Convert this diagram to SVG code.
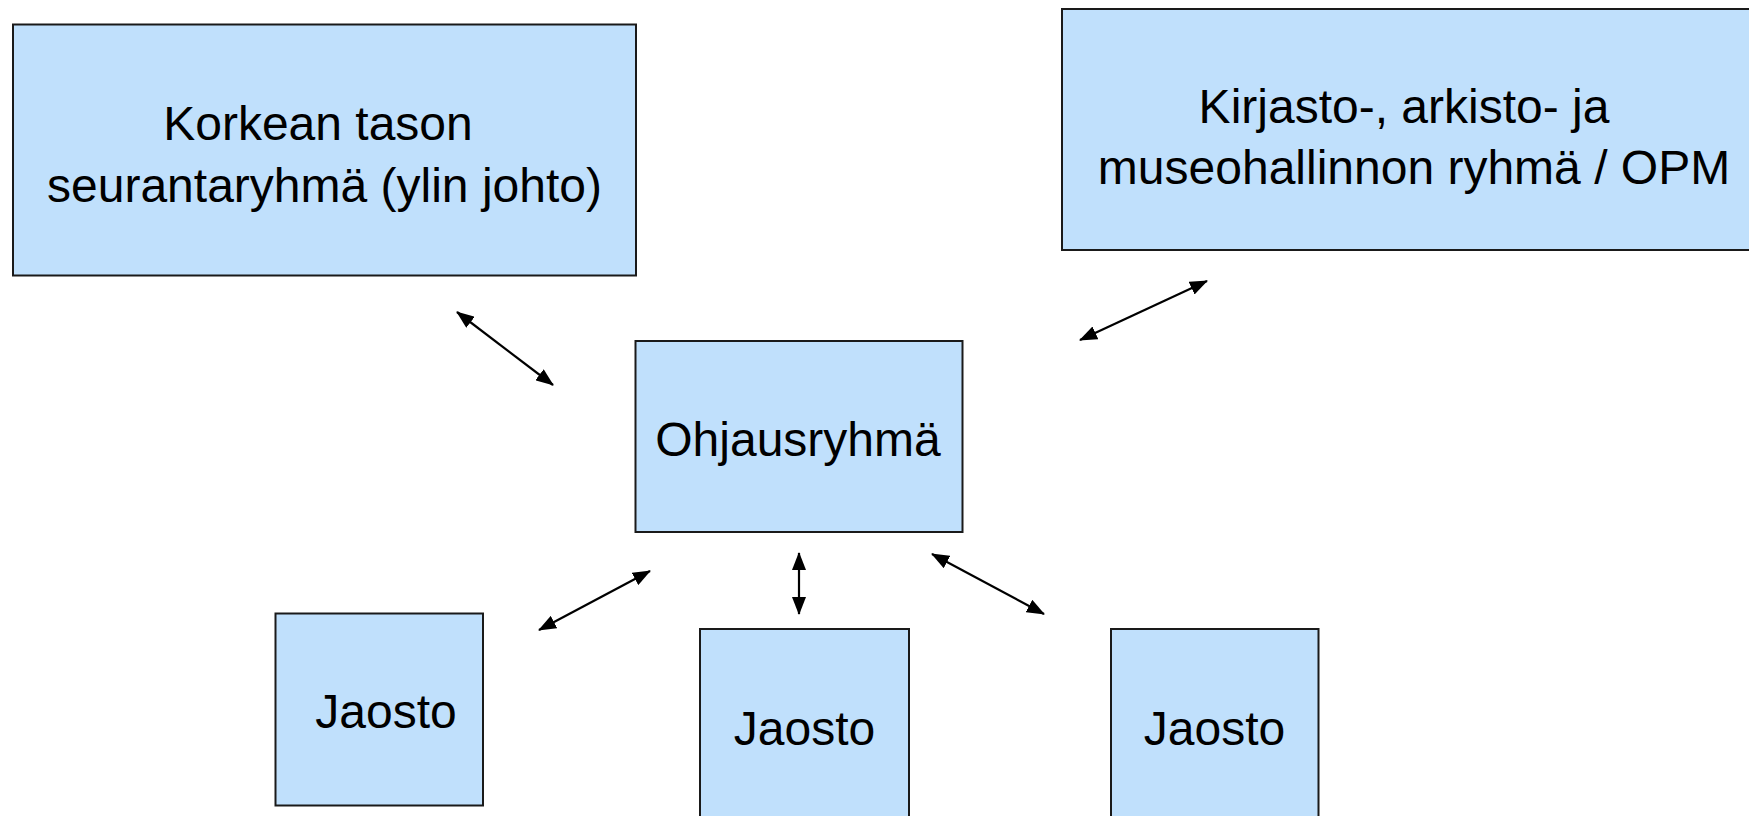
<svg xmlns="http://www.w3.org/2000/svg" width="1749" height="816" viewBox="0 0 1749 816">
<style>
.box{fill:#C0E0FC;stroke:#1a1a1a;stroke-width:2}
.lbl{font-family:"Liberation Sans",Arial,sans-serif;font-size:48px;fill:#000;text-anchor:middle}
.con{stroke:#000;stroke-width:2.2;fill:none;marker-start:url(#ah);marker-end:url(#ah)}
</style>
<defs>
<marker id="ah" viewBox="0 0 18 14" refX="17" refY="7" markerWidth="18" markerHeight="14" markerUnits="userSpaceOnUse" orient="auto-start-reverse">
<path d="M0,0 L18,7 L0,14 z" fill="#000"/>
</marker>
</defs>
<rect width="1749" height="816" fill="#fff"/>
<g id="connectors">
<line class="con" x1="457" y1="312" x2="553" y2="385"/>
<line class="con" x1="1080" y1="340" x2="1207" y2="281"/>
<line class="con" x1="539" y1="630" x2="650" y2="571"/>
<line class="con" x1="799" y1="553" x2="799" y2="614"/>
<line class="con" x1="932" y1="554" x2="1044" y2="614"/>
</g>
<g id="korkean">
<rect class="box" x="13" y="24.5" width="623" height="251"/>
<text class="lbl" x="318" y="140">Korkean tason</text>
<text class="lbl" x="324.5" y="202">seurantaryhmä (ylin johto)</text>
</g>
<g id="kirjasto">
<rect class="box" x="1062" y="9" width="690" height="241"/>
<text class="lbl" x="1404" y="123">Kirjasto-, arkisto- ja</text>
<text class="lbl" x="1414" y="184">museohallinnon ryhmä / OPM</text>
</g>
<g id="ohjaus">
<rect class="box" x="635.5" y="341" width="327" height="191"/>
<text class="lbl" x="798" y="456">Ohjausryhmä</text>
</g>
<g id="jaosto1">
<rect class="box" x="275.5" y="613.5" width="207.5" height="192"/>
<text class="lbl" x="386" y="728">Jaosto</text>
</g>
<g id="jaosto2">
<rect class="box" x="700" y="629" width="209" height="200"/>
<text class="lbl" x="804.5" y="745">Jaosto</text>
</g>
<g id="jaosto3">
<rect class="box" x="1111" y="629" width="207.5" height="200"/>
<text class="lbl" x="1214.5" y="745">Jaosto</text>
</g>
</svg>
